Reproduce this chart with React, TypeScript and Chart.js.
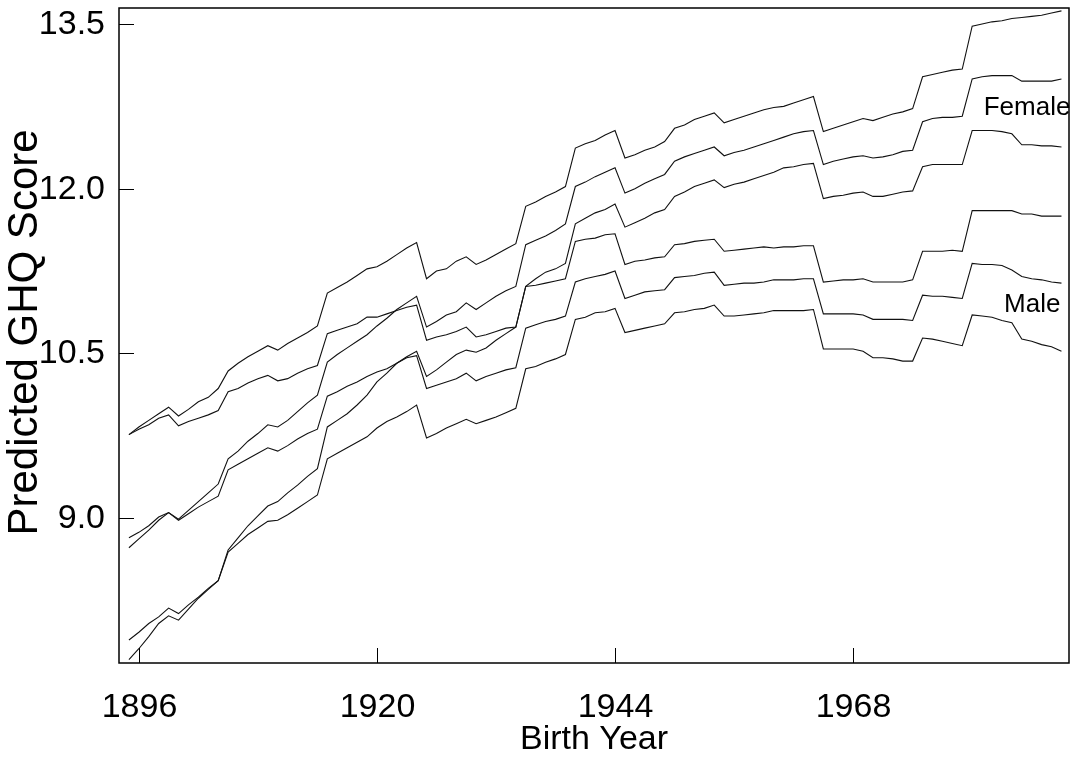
import { useEffect, useRef } from 'react';
import { Chart, registerables } from 'chart.js';

Chart.register(...registerables);

const birthYears = [
  1895, 1896, 1897, 1898, 1899, 1900, 1901, 1902, 1903, 1904,
  1905, 1906, 1907, 1908, 1909, 1910, 1911, 1912, 1913, 1914,
  1915, 1916, 1917, 1918, 1919, 1920, 1921, 1922, 1923, 1924,
  1925, 1926, 1927, 1928, 1929, 1930, 1931, 1932, 1933, 1934,
  1935, 1936, 1937, 1938, 1939, 1940, 1941, 1942, 1943, 1944,
  1945, 1946, 1947, 1948, 1949, 1950, 1951, 1952, 1953, 1954,
  1955, 1956, 1957, 1958, 1959, 1960, 1961, 1962, 1963, 1964,
  1965, 1966, 1967, 1968, 1969, 1970, 1971, 1972, 1973, 1974,
  1975, 1976, 1977, 1978, 1979, 1980, 1981, 1982, 1983, 1984,
  1985, 1986, 1987, 1988, 1989,
];

const femaleUpper = [
  9.76, 9.83, 9.89, 9.95, 10.01, 9.93, 9.99, 10.06, 10.10, 10.18,
  10.34, 10.41, 10.47, 10.52, 10.57, 10.53, 10.59, 10.64, 10.69, 10.75,
  11.05, 11.10, 11.15, 11.21, 11.27, 11.29, 11.34, 11.40, 11.46, 11.51,
  11.18, 11.25, 11.27, 11.34, 11.38, 11.31, 11.35, 11.40, 11.45, 11.50,
  11.84, 11.88, 11.93, 11.97, 12.02, 12.37, 12.41, 12.44, 12.49, 12.53,
  12.28, 12.31, 12.35, 12.38, 12.43, 12.55, 12.58, 12.63, 12.66, 12.69,
  12.60, 12.63, 12.66, 12.69, 12.72, 12.74, 12.75, 12.78, 12.81, 12.84,
  12.52, 12.55, 12.58, 12.61, 12.64, 12.62, 12.65, 12.68, 12.70, 12.73,
  13.02, 13.04, 13.06, 13.08, 13.09, 13.48, 13.50, 13.52, 13.53, 13.55,
  13.56, 13.57, 13.58, 13.60, 13.62,
];

const femaleMean = [
  8.82, 8.87, 8.93, 9.01, 9.05, 8.99, 9.07, 9.15, 9.23, 9.31,
  9.54, 9.61, 9.70, 9.77, 9.85, 9.83, 9.89, 9.97, 10.05, 10.12,
  10.42, 10.49, 10.55, 10.61, 10.67, 10.75, 10.82, 10.90, 10.96, 11.02,
  10.74, 10.79, 10.85, 10.88, 10.96, 10.90, 10.96, 11.02, 11.07, 11.11,
  11.49, 11.53, 11.57, 11.62, 11.68, 12.02, 12.06, 12.11, 12.15, 12.19,
  11.96, 12.00, 12.05, 12.09, 12.13, 12.25, 12.29, 12.32, 12.35, 12.38,
  12.30, 12.33, 12.35, 12.38, 12.41, 12.44, 12.47, 12.50, 12.52, 12.53,
  12.22, 12.25, 12.27, 12.29, 12.30, 12.28, 12.29, 12.31, 12.34, 12.35,
  12.61, 12.64, 12.65, 12.65, 12.66, 13.00, 13.02, 13.03, 13.03, 13.03,
  12.98, 12.98, 12.98, 12.98, 13.00,
];

const femaleLower = [
  7.89, 7.96, 8.04, 8.10, 8.18, 8.13, 8.21, 8.28, 8.36, 8.43,
  8.71, 8.82, 8.93, 9.02, 9.11, 9.15, 9.23, 9.30, 9.38, 9.45,
  9.83, 9.89, 9.95, 10.03, 10.12, 10.24, 10.32, 10.41, 10.47, 10.52,
  10.29, 10.35, 10.42, 10.49, 10.53, 10.51, 10.55, 10.62, 10.68, 10.74,
  11.11, 11.18, 11.24, 11.27, 11.32, 11.68, 11.73, 11.78, 11.81, 11.86,
  11.65, 11.69, 11.73, 11.78, 11.81, 11.93, 11.97, 12.02, 12.05, 12.08,
  12.01, 12.04, 12.06, 12.09, 12.12, 12.15, 12.19, 12.20, 12.22, 12.23,
  11.91, 11.93, 11.94, 11.96, 11.97, 11.93, 11.93, 11.95, 11.97, 11.98,
  12.20, 12.22, 12.22, 12.22, 12.22, 12.53, 12.53, 12.53, 12.52, 12.50,
  12.40, 12.40, 12.39, 12.39, 12.38,
];

const maleUpper = [
  9.76, 9.81, 9.85, 9.91, 9.94, 9.84, 9.88, 9.91, 9.94, 9.98,
  10.15, 10.18, 10.23, 10.27, 10.30, 10.25, 10.27, 10.32, 10.36, 10.39,
  10.68, 10.71, 10.74, 10.77, 10.83, 10.83, 10.86, 10.89, 10.92, 10.94,
  10.62, 10.65, 10.67, 10.70, 10.74, 10.65, 10.67, 10.70, 10.73, 10.74,
  11.11, 11.12, 11.14, 11.16, 11.18, 11.52, 11.54, 11.55, 11.58, 11.59,
  11.31, 11.34, 11.35, 11.37, 11.38, 11.49, 11.50, 11.52, 11.53, 11.54,
  11.43, 11.44, 11.45, 11.46, 11.47, 11.46, 11.47, 11.47, 11.48, 11.48,
  11.15, 11.16, 11.17, 11.17, 11.18, 11.15, 11.15, 11.15, 11.15, 11.17,
  11.43, 11.43, 11.43, 11.44, 11.43, 11.80, 11.80, 11.80, 11.80, 11.80,
  11.77, 11.77, 11.75, 11.75, 11.75,
];

const maleMean = [
  8.73, 8.81, 8.89, 8.98, 9.05, 8.98, 9.04, 9.10, 9.15, 9.20,
  9.44, 9.49, 9.54, 9.59, 9.64, 9.61, 9.66, 9.72, 9.77, 9.81,
  10.11, 10.15, 10.20, 10.24, 10.29, 10.33, 10.36, 10.41, 10.46, 10.48,
  10.18, 10.21, 10.24, 10.27, 10.32, 10.25, 10.29, 10.32, 10.35, 10.37,
  10.73, 10.76, 10.79, 10.81, 10.84, 11.15, 11.18, 11.20, 11.22, 11.25,
  11.00, 11.03, 11.06, 11.07, 11.08, 11.19, 11.20, 11.21, 11.23, 11.24,
  11.12, 11.13, 11.14, 11.14, 11.15, 11.17, 11.17, 11.17, 11.18, 11.18,
  10.86, 10.86, 10.86, 10.86, 10.85, 10.81, 10.81, 10.81, 10.81, 10.80,
  11.03, 11.02, 11.02, 11.01, 11.00, 11.32, 11.31, 11.31, 11.30, 11.26,
  11.20, 11.18, 11.17, 11.15, 11.14,
];

const maleLower = [
  7.71, 7.81, 7.92, 8.04, 8.11, 8.07, 8.17, 8.27, 8.35, 8.43,
  8.69, 8.77, 8.85, 8.91, 8.97, 8.98, 9.03, 9.09, 9.15, 9.21,
  9.54, 9.59, 9.64, 9.69, 9.74, 9.82, 9.88, 9.92, 9.97, 10.03,
  9.73, 9.77, 9.82, 9.86, 9.90, 9.86, 9.89, 9.92, 9.96, 10.00,
  10.36, 10.38, 10.42, 10.45, 10.49, 10.81, 10.83, 10.87, 10.88, 10.91,
  10.69, 10.71, 10.73, 10.75, 10.77, 10.87, 10.88, 10.90, 10.91, 10.94,
  10.84, 10.84, 10.85, 10.86, 10.87, 10.89, 10.89, 10.89, 10.89, 10.90,
  10.54, 10.54, 10.54, 10.54, 10.52, 10.46, 10.46, 10.45, 10.43, 10.43,
  10.64, 10.63, 10.61, 10.59, 10.57, 10.85, 10.84, 10.83, 10.80, 10.78,
  10.63, 10.61, 10.58, 10.56, 10.52,
];

const seriesNames = ['Female upper', 'Female', 'Female lower', 'Male upper', 'Male', 'Male lower'];
const xTickValues = [1896, 1920, 1944, 1968];
const yTickValues = [9.0, 10.5, 12.0, 13.5];
const xAxisTitle = 'Birth Year';
const yAxisTitle = 'Predicted GHQ Score';
const groupLabels = ['Female', 'Male'];
const groupLabelYears = [1989.9, 1988.9];
const groupLabelValues = [12.74, 10.94];

const FONT = "'Liberation Sans', Arial, Helvetica, sans-serif";
const TICK_SIZE = 34;
const X_TITLE_SIZE = 34;
const Y_TITLE_SIZE = 42;
const LABEL_SIZE = 26;

function drawText(
  ctx: CanvasRenderingContext2D,
  text: string,
  x: number,
  y: number,
  size: number,
  align: CanvasTextAlign,
  rotate = false,
) {
  ctx.save();
  ctx.translate(x, y);
  if (rotate) ctx.rotate(-Math.PI / 2);
  ctx.font = `${size}px ${FONT}`;
  ctx.textAlign = align;
  ctx.textBaseline = 'middle';
  ctx.fillStyle = '#000';
  ctx.fillText(text, 0, 0);
  ctx.restore();
}

const framePlugin = {
  id: 'frameAndTicks',
  afterDraw(chart: any) {
    const { ctx, chartArea: a, scales } = chart;
    ctx.save();
    ctx.strokeStyle = '#000';
    ctx.lineWidth = 1.5;
    ctx.strokeRect(a.left, a.top, a.right - a.left, a.bottom - a.top);
    ctx.lineWidth = 1;
    for (const v of yTickValues) {
      const y = Math.round(scales.y.getPixelForValue(v)) + 0.5;
      ctx.beginPath();
      ctx.moveTo(a.left, y);
      ctx.lineTo(a.left + 15, y);
      ctx.stroke();
      drawText(ctx, v.toFixed(1), a.left - 14, y, TICK_SIZE, 'right');
    }
    for (const v of xTickValues) {
      const x = Math.round(scales.x.getPixelForValue(v)) + 0.5;
      ctx.beginPath();
      ctx.moveTo(x, a.bottom);
      ctx.lineTo(x, a.bottom - 15);
      ctx.stroke();
      drawText(ctx, String(v), x, a.bottom + 45, TICK_SIZE, 'center');
    }
    drawText(ctx, xAxisTitle, (a.left + a.right) / 2, a.bottom + 77, X_TITLE_SIZE, 'center');
    drawText(ctx, yAxisTitle, 25, (a.top + a.bottom) / 2 - 3, Y_TITLE_SIZE, 'center', true);
    groupLabels.forEach((t, i) => {
      drawText(ctx, t, scales.x.getPixelForValue(groupLabelYears[i]), scales.y.getPixelForValue(groupLabelValues[i]), LABEL_SIZE, 'right');
    });
    ctx.restore();
  },
};

export default function App() {
  const ref = useRef<HTMLCanvasElement | null>(null);

  useEffect(() => {
    document.body.style.margin = '0';
    document.body.style.background = '#fff';
    const canvas = ref.current;
    if (!canvas) return;
    const series = [femaleUpper, femaleMean, femaleLower, maleUpper, maleMean, maleLower];
    const chart = new Chart(canvas, {
      type: 'line',
      data: {
        datasets: series.map((vals, i) => ({
          label: seriesNames[i],
          data: birthYears.map((yr, j) => ({ x: yr, y: vals[j] })),
          borderColor: '#111',
          borderWidth: 1.1,
          pointRadius: 0,
          tension: 0,
          fill: false,
        })),
      },
      options: {
        animation: false,
        responsive: false,
        devicePixelRatio: 1,
        layout: { padding: { top: 8, right: 6, left: 0, bottom: 0 } },
        plugins: { legend: { display: false }, tooltip: { enabled: false } },
        scales: {
          x: {
            type: 'linear',
            min: 1894.0,
            max: 1989.76,
            grid: { display: false },
            border: { display: false },
            ticks: { display: false },
            title: { display: false },
            afterBuildTicks: (s: any) => {
              s.ticks = xTickValues.map((v) => ({ value: v }));
            },
            afterFit: (s: any) => {
              s.height = 103;
              s.paddingLeft = 0;
              s.paddingRight = 0;
            },
          },
          y: {
            type: 'linear',
            min: 7.68,
            max: 13.646,
            grid: { display: false },
            border: { display: false },
            ticks: { display: false },
            title: { display: false },
            afterBuildTicks: (s: any) => {
              s.ticks = yTickValues.map((v) => ({ value: v }));
            },
            afterFit: (s: any) => {
              s.width = 119;
              s.paddingTop = 0;
              s.paddingBottom = 0;
            },
          },
        },
      },
      plugins: [framePlugin],
    });
    return () => chart.destroy();
  }, []);

  return (
    <div style={{ width: 1075, height: 766, background: '#fff' }}>
      <canvas ref={ref} width={1075} height={766} style={{ display: 'block', width: 1075, height: 766 }} />
    </div>
  );
}
